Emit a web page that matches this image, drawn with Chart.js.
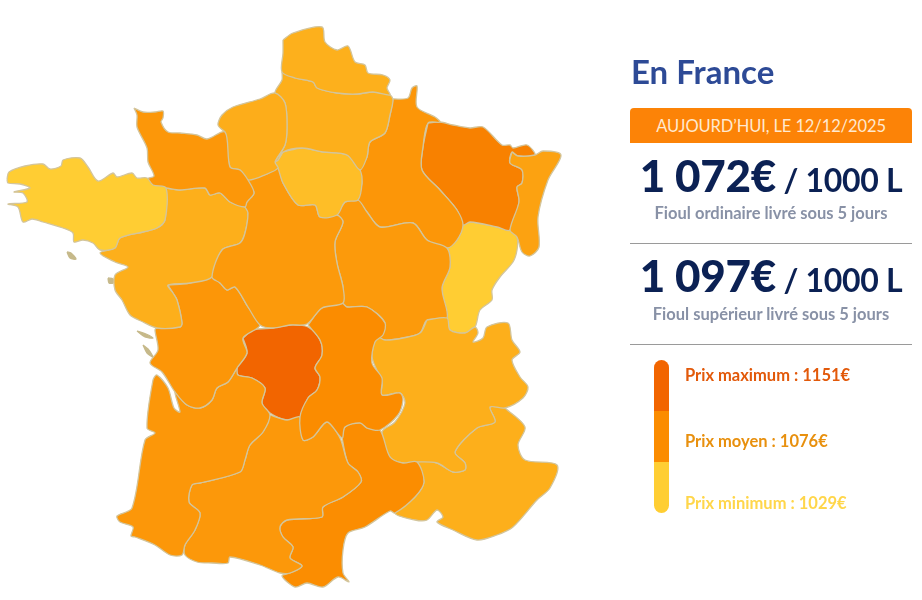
<!DOCTYPE html>
<html lang="fr">
<head>
<meta charset="utf-8">
<title>Prix du fioul en France</title>
<script src="https://cdn.jsdelivr.net/npm/chart.js@4/dist/chart.umd.min.js"></script>
<style>
  html, body { margin: 0; padding: 0; background: #fff; }
  body { width: 922px; height: 600px; position: relative; overflow: hidden; font-family: Lato, sans-serif; }
  #map { position: absolute; left: 0; top: 0; width: 922px; height: 600px; }
  .abs { position: absolute; white-space: nowrap; }
  h1 { margin: 0; left: 631px; top: 51px; font-size: 33px; line-height: 40px; font-weight: 700; color: #2d4a96; }
  #banner { left: 630px; top: 108px; width: 282px; height: 35px; line-height: 36px; text-align: center; background: #fc8307; border-radius: 4px 4px 0 0; color: #ffe9cf; font-size: 16.5px; letter-spacing: -0.1px; }
  .price { left: 630px; width: 282px; text-align: center; color: #0b2154; font-size: 32px; line-height: 50px; font-weight: 700; letter-spacing: -0.3px; }
  .price b { font-size: 44px; font-weight: 900; }
  .sub { left: 630px; width: 282px; text-align: center; color: #8891a6; font-size: 16.5px; line-height: 20px; font-weight: 700; }
  .rule { left: 630px; width: 282px; height: 1px; background: #9a9a9a; }
  #bar { left: 654px; top: 360px; width: 15px; height: 153px; border-radius: 8px; overflow: hidden; }
  #bar div { height: 51px; }
  .lab { left: 685px; font-size: 16.5px; line-height: 20px; font-weight: 700; }
</style>
</head>
<body>
<canvas id="map" width="922" height="600"></canvas>
<h1 class="abs">En France</h1>
<div class="abs" id="banner"></div>
<div class="abs price" id="p1" style="top:150px"></div>
<div class="abs sub" style="top:203px">Fioul ordinaire livré sous 5 jours</div>
<div class="abs rule" style="top:243px"></div>
<div class="abs price" id="p2" style="top:250px"></div>
<div class="abs sub" style="top:304px">Fioul supérieur livré sous 5 jours</div>
<div class="abs rule" style="top:344px"></div>
<div class="abs" id="bar"><div style="background:#f26500"></div><div style="background:#fb8c00"></div><div style="background:#ffce33"></div></div>
<div class="abs lab" id="lmax" style="top:365px;color:#e2590a"></div>
<div class="abs lab" id="lmoy" style="top:431px;color:#e8900e"></div>
<div class="abs lab" id="lmin" style="top:493px;color:#ffd64a"></div>
<script>
const dateLabel = "AUJOURD’HUI, LE 12/12/2025";
const prixOrdinaire = "1 072€";
const prixSuperieur = "1 097€";
const prixMax = 1151, prixMoyen = 1076, prixMin = 1029;

// contours des regions, en coordonnees de la carte
const bretagne = [[7,179],[9,172],[25,166],[43,164],[50,169],[61,166],[63,160],[80,158],[88,167],[98,181],[113,173],[117,177],[132,173],[137,178],[147,178],[153,185],[166,188],[165,220],[157,228],[143,232],[120,238],[115,248],[100,250],[93,243],[83,240],[74,242],[73,233],[63,228],[43,222],[32,219],[23,222],[18,207],[8,204],[27,202],[23,193],[14,192],[30,188],[20,184],[8,183]];
const basseNormandie = [[134,108],[143,112],[155,112],[163,111],[163,118],[161,122],[168,132],[180,133],[197,135],[207,139],[225,132],[230,167],[240,170],[248,180],[254,193],[247,202],[245,207],[230,202],[220,193],[210,195],[205,188],[180,190],[166,188],[152,187],[147,179],[154,176],[148,162],[147,148],[137,127],[137,115]];
const hauteNormandie = [[225,132],[218,125],[222,115],[233,107],[260,99],[275,93],[285,103],[287,127],[285,145],[275,162],[278,168],[267,174],[248,180],[240,170],[230,167]];
const nord = [[283,40],[293,33],[322,27],[325,42],[337,50],[348,46],[355,62],[365,65],[368,73],[383,75],[390,80],[387,88],[390,95],[373,92],[357,94],[337,93],[317,88],[313,82],[295,78],[282,72],[283,53]];
const picardie = [[282,72],[295,78],[313,82],[317,88],[337,93],[357,94],[373,92],[390,95],[393,100],[390,115],[385,133],[370,142],[367,157],[360,170],[347,155],[323,152],[302,148],[283,152],[278,160],[275,162],[285,145],[287,127],[285,103],[275,93],[282,80]];
const ileDeFrance = [[283,152],[302,148],[323,152],[347,155],[360,170],[362,183],[358,200],[345,202],[337,215],[320,217],[315,205],[298,205],[283,183],[278,168],[275,162],[278,160]];
const centre = [[245,207],[247,202],[254,193],[248,180],[267,174],[278,168],[283,183],[298,205],[315,205],[320,217],[337,215],[343,222],[335,242],[337,263],[343,287],[343,303],[322,308],[307,324],[290,325],[273,328],[260,325],[248,307],[235,287],[227,290],[220,283],[212,277],[222,250],[240,243],[245,233],[248,213]];
const paysDeLaLoire = [[166,188],[180,190],[205,188],[210,195],[220,193],[230,202],[245,207],[248,213],[245,233],[240,243],[222,250],[212,277],[190,283],[168,285],[173,293],[177,300],[182,323],[180,327],[157,328],[143,322],[130,315],[122,300],[115,290],[115,275],[128,267],[115,262],[100,253],[115,248],[120,238],[143,232],[157,228],[165,220]];
const poitou = [[168,285],[190,283],[212,277],[220,283],[227,290],[235,287],[248,307],[260,325],[243,338],[247,353],[237,368],[228,382],[217,388],[212,400],[200,408],[187,405],[175,392],[162,372],[150,363],[158,350],[155,330],[157,328],[180,327],[182,323],[177,300],[173,293]];
const limousin = [[243,338],[253,330],[273,328],[290,325],[308,327],[320,340],[322,355],[315,368],[320,377],[317,390],[308,398],[300,417],[287,420],[270,413],[262,403],[265,388],[252,378],[238,375],[237,368],[247,353]];
const auvergne = [[308,325],[322,308],[342,303],[347,307],[367,307],[385,323],[383,335],[375,342],[372,363],[382,378],[382,395],[400,393],[403,400],[398,415],[380,430],[367,428],[360,423],[345,427],[342,438],[327,422],[313,437],[303,440],[300,417],[308,398],[317,390],[320,377],[315,368],[322,355],[320,340]];
const aquitaine = [[237,368],[238,375],[252,378],[265,388],[262,403],[270,415],[263,432],[250,445],[245,460],[240,472],[200,483],[192,485],[189,502],[200,513],[195,530],[185,545],[182,555],[170,555],[155,545],[135,537],[131,536],[133,527],[120,522],[117,516],[132,508],[145,440],[155,433],[147,428],[153,380],[157,375],[168,388],[174,408],[180,412],[175,392],[187,405],[200,408],[212,400],[217,388],[228,382]];
const midiPyrenees = [[270,415],[287,420],[300,417],[303,440],[313,437],[327,422],[340,438],[348,463],[358,472],[361,482],[343,497],[323,507],[322,517],[287,520],[280,527],[283,537],[293,547],[290,558],[302,566],[290,573],[280,573],[260,565],[230,557],[228,563],[212,563],[197,562],[185,555],[185,545],[195,530],[200,513],[189,502],[192,485],[200,483],[240,472],[245,460],[250,445],[263,432]];
const languedoc = [[342,438],[345,427],[360,422],[367,428],[380,430],[390,457],[403,463],[417,462],[424,482],[415,497],[395,513],[390,511],[365,527],[348,533],[343,550],[343,573],[349,582],[338,577],[323,587],[307,583],[295,587],[282,576],[290,573],[302,566],[290,558],[293,547],[283,537],[280,527],[287,520],[322,517],[323,507],[343,497],[361,482],[358,472],[348,463]];
const rhoneAlpes = [[427,320],[447,318],[450,330],[465,333],[475,327],[478,333],[473,342],[483,338],[487,327],[508,323],[512,340],[520,352],[512,360],[520,377],[528,387],[523,398],[505,408],[490,407],[495,422],[477,428],[455,452],[465,463],[465,470],[453,472],[437,463],[417,462],[403,463],[390,457],[382,432],[395,422],[405,403],[400,393],[382,395],[382,382],[372,357],[377,337],[385,340],[403,338],[420,333]];
const paca = [[505,408],[525,427],[518,445],[525,460],[557,465],[550,488],[537,500],[513,527],[497,535],[477,540],[453,530],[437,522],[443,517],[437,510],[427,520],[415,520],[395,513],[415,497],[424,482],[417,462],[437,463],[453,472],[465,470],[465,463],[455,452],[477,428],[495,422],[490,407]];
const bourgogne = [[345,202],[358,200],[367,212],[380,227],[413,223],[427,240],[447,248],[450,267],[442,288],[447,318],[427,320],[420,333],[403,338],[385,340],[377,337],[385,323],[367,307],[347,307],[342,303],[343,287],[337,263],[335,242],[343,222],[337,215]];
const champagne = [[393,99],[408,98],[412,88],[417,86],[417,107],[435,117],[440,122],[428,123],[423,147],[422,170],[440,190],[457,210],[463,225],[457,240],[447,248],[427,240],[413,223],[380,227],[367,212],[358,200],[362,183],[360,170],[367,157],[370,142],[385,133],[390,115]];
const lorraine = [[428,123],[440,122],[453,125],[470,128],[483,127],[502,145],[510,145],[513,148],[527,145],[535,155],[518,156],[512,152],[510,163],[522,170],[522,183],[517,187],[519,202],[510,230],[497,227],[470,222],[463,225],[457,210],[440,190],[422,170],[423,147]];
const alsace = [[512,152],[518,156],[535,155],[543,151],[561,155],[548,180],[538,217],[539,247],[530,256],[522,252],[517,237],[510,230],[519,202],[517,187],[522,183],[522,170],[510,163]];
const francheComte = [[463,225],[470,222],[497,227],[510,230],[517,237],[517,250],[513,262],[500,277],[492,290],[492,300],[480,310],[475,327],[465,333],[450,330],[447,318],[442,288],[450,267],[447,248],[457,240]];
const belleIle = [[67,252],[71,253],[76,259],[70,258]];
const noirmoutier = [[108,278],[113,279],[113,283],[109,283]];
const re = [[137,331],[146,334],[153,338],[145,337]];
const oleron = [[143,345],[148,349],[153,357],[147,353]];

const regionNames = ["Bretagne","Basse-Normandie","Haute-Normandie","Nord-Pas-de-Calais","Picardie","Île-de-France","Centre","Pays de la Loire","Poitou-Charentes","Auvergne","Aquitaine","Midi-Pyrénées","Languedoc-Roussillon","Rhône-Alpes","PACA","Bourgogne","Champagne-Ardenne","Alsace","Lorraine","Franche-Comté","Limousin"];
const regionShapes = [bretagne,basseNormandie,hauteNormandie,nord,picardie,ileDeFrance,centre,paysDeLaLoire,poitou,auvergne,aquitaine,midiPyrenees,languedoc,rhoneAlpes,paca,bourgogne,champagne,alsace,lorraine,francheComte,limousin];
// prix estimes d'apres la teinte de chaque region
const regionPrices = [1029,1068,1052,1050,1051,1040,1066,1051,1069,1076,1068,1067,1075,1051,1051,1066,1069,1060,1098,1029,1151];
const islandNames = ["Belle-Île","Noirmoutier","Île de Ré","Oléron"];
const islandShapes = [belleIle,noirmoutier,re,oleron];

const low = [255,205,51], mid = [251,140,0], high = [242,101,0];
function priceColor(p) {
  const a = p <= prixMoyen ? low : mid;
  const b = p <= prixMoyen ? mid : high;
  const t = p <= prixMoyen ? (p - prixMin) / (prixMoyen - prixMin) : (p - prixMoyen) / (prixMax - prixMoyen);
  return 'rgb(' + a.map((v, i) => Math.round(v + (b[i] - v) * t)).join(',') + ')';
}

function regionDataset(name, pts, fillColor, lineColor) {
  return {
    label: name,
    data: pts.concat([pts[0]]).map(p => ({ x: p[0], y: p[1] })),
    showLine: true,
    fill: 'shape',
    tension: 0.3,
    pointRadius: 0,
    borderWidth: 1.3,
    borderColor: lineColor,
    backgroundColor: fillColor
  };
}

const datasets = regionShapes.map((pts, i) => regionDataset(regionNames[i], pts, priceColor(regionPrices[i]), '#d3c59c'));
islandShapes.forEach((pts, i) => {
  datasets.push(regionDataset(islandNames[i], pts, '#c6b98a', '#c6b98a'));
});

new Chart(document.getElementById('map'), {
  type: 'scatter',
  data: { datasets },
  options: {
    responsive: false,
    animation: false,
    layout: { padding: 0 },
    scales: {
      x: { type: 'linear', min: 0, max: 922, display: false },
      y: { type: 'linear', min: 0, max: 600, reverse: true, display: false }
    },
    plugins: { legend: { display: false }, tooltip: { enabled: false } }
  }
});

document.getElementById('banner').textContent = dateLabel;
document.getElementById('p1').innerHTML = '<b>' + prixOrdinaire + '</b> / 1000 L';
document.getElementById('p2').innerHTML = '<b>' + prixSuperieur + '</b> / 1000 L';
document.getElementById('lmax').textContent = 'Prix maximum : ' + prixMax + '€';
document.getElementById('lmoy').textContent = 'Prix moyen : ' + prixMoyen + '€';
document.getElementById('lmin').textContent = 'Prix minimum : ' + prixMin + '€';
</script>
</body>
</html>
